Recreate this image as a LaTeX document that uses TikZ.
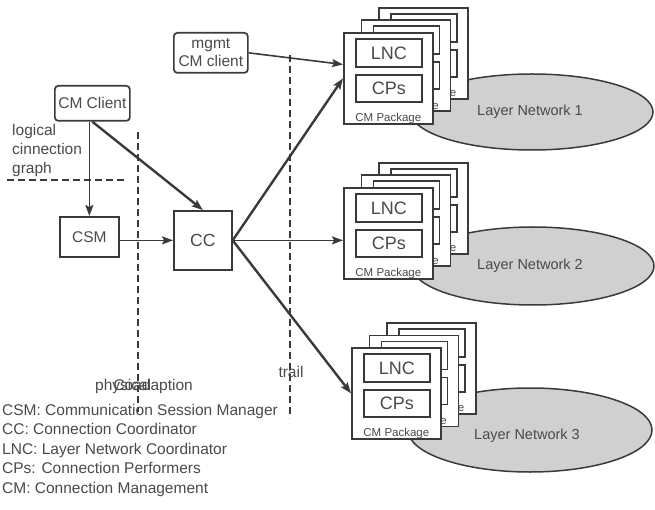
\documentclass[tikz,border=0pt]{standalone}
\usepackage{fontspec}
\setmainfont{Liberation Sans}
\usetikzlibrary{shapes.geometric,arrows.meta,calc}

\definecolor{ink}{HTML}{3A3A3A}
\definecolor{txt}{HTML}{4A4A4A}
\definecolor{cloud}{HTML}{D0D0D0}

\newcommand\fsz[1]{\fontsize{#1}{#1}\selectfont}
\newcommand\fszb[2]{\fontsize{#1}{#2}\selectfont}

\tikzset{
  box/.style={draw=ink, line width=1.7, fill=white, inner sep=0, text=txt},
  rbox/.style={box, rounded corners=3.5},
  net/.style={ellipse, draw=ink, line width=1.5, fill=cloud, inner sep=0},
  conn/.style={draw=ink, line width=1.6, -{Stealth[length=11,width=8,inset=2]}},
  boldconn/.style={conn, line width=2.4},
  divider/.style={draw=ink, line width=1.4, dash pattern=on 7 off 4},
  lbl/.style={text=txt, inner sep=0},
}

% one sheet of a CM package: outer frame, LNC and CPs boxes, caption
\newcommand\cmsheet[3]{%
  \node[box, minimum width=89, minimum height=91, anchor=north west] (#1) at (#2,#3) {};
  \node[box, minimum width=66, minimum height=28, anchor=north west, font=\fsz{18}]
    (#1-lnc) at ($(#1.north west)+(12,6)$) {LNC};
  \node[box, minimum width=66, minimum height=27, anchor=north west, font=\fsz{18}]
    (#1-cps) at ($(#1.north west)+(12,42)$) {CPs};
  \node[lbl, font=\fsz{11.5}] (#1-cap) at ($(#1.south)+(0,-6)$) {CM Package};
}
% a stack of three sheets, front sheet named #1 with top-left corner (#2,#3)
\newcommand\cmpackage[3]{%
  \cmsheet{#1-c}{#2+35}{#3-25}
  \cmsheet{#1-b}{#2+17.5}{#3-12.5}
  \cmsheet{#1}{#2}{#3}
}

\begin{document}
\begin{tikzpicture}[x=1pt, y=-1pt, font=\fsz{15.5}]
\useasboundingbox (0,0) rectangle (655,510);

% layer networks
\node[net, minimum width=242, minimum height=76] (ln1) at (532,112) {};
\node[net, minimum width=242, minimum height=78] (ln2) at (533,266) {};
\node[net, minimum width=244, minimum height=84] (ln3) at (530,430) {};
\node[lbl, font=\fsz{14.5}] (ln1-t) at (530,112) {Layer Network 1};
\node[lbl, font=\fsz{14.5}] (ln2-t) at (530,266) {Layer Network 2};
\node[lbl, font=\fsz{14.5}] (ln3-t) at (527,436) {Layer Network 3};

% CM packages
\cmpackage{pkg1}{343}{32}
\cmpackage{pkg2}{343}{187}
\cmpackage{pkg3}{351}{347}

% dashed boundaries
\coordinate (lg-l) at (7,180);
\coordinate (lg-r) at (127,180);
\coordinate (ph-t) at (138,132);
\coordinate (ph-b) at (138,412);
\coordinate (tr-t) at (290,55);
\coordinate (tr-b) at (290,418);
\draw[divider] (lg-l) -- (lg-r);
\draw[divider] (ph-t) -- (ph-b);
\draw[divider] (tr-t) -- (tr-b);

\node[lbl, align=left, anchor=north west, font=\fszb{15.5}{19}]
  (lg) at (12,124) {logical\\cinnection\\graph};
\node[lbl, anchor=west] (ph1) at (95,386) {physical};
\node[lbl, anchor=east] (ph2) at (193,386) {Coadaption};
\node[lbl] (tr) at (291,372) {trail};

% control boxes
\node[rbox, minimum width=75, minimum height=35, anchor=north west] (client) at (54,85) {CM Client};
\node[rbox, minimum width=74, minimum height=40, anchor=north west, align=center,
      font=\fszb{15.5}{18}] (mgmt) at (173,32) {mgmt\\CM client};
\node[box, minimum width=59, minimum height=40, anchor=north west] (csm) at (59,216) {CSM};
\node[box, minimum width=58, minimum height=59, anchor=north west, font=\fsz{17.5}] (cc) at (173,210) {CC};

% connectors
\draw[conn] (csm.north |- client.south) -- (csm.north);
\draw[boldconn] (client.south) -- (cc.north);
\draw[conn] (csm.east |- cc.west) -- (cc.west);
\draw[boldconn] (cc.east) -- (pkg1.west);
\draw[conn] (mgmt.east) -- ($(pkg1.north west)!0.35!(pkg1.south west)$);
\draw[conn] (cc.east) -- (cc.east -| pkg2.west);
\draw[boldconn] (cc.east) -- (pkg3.west);

% legend
\node[lbl, align=left, anchor=north west, font=\fszb{15.5}{19.5}] (legend) at (2,404)
  {CSM: Communication Session Manager\\
   CC: Connection Coordinator\\
   LNC: Layer Network Coordinator\\
   CPs: Connection Performers\\
   CM: Connection Management};
\end{tikzpicture}
\end{document}
